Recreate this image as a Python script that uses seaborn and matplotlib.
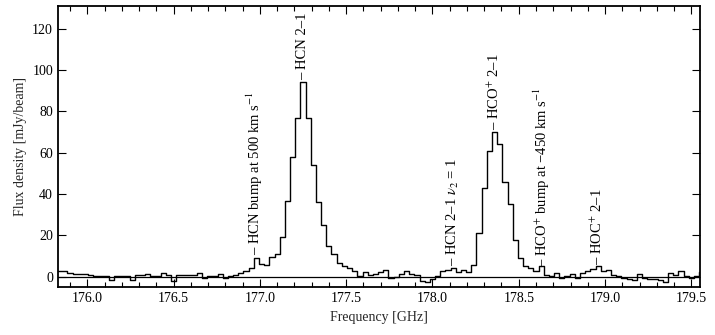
"""Spectrum around the HCN / HCO+ 2-1 lines, drawn as a step histogram."""

import numpy as np
import pandas as pd
import matplotlib
matplotlib.use('Agg')
import matplotlib.pyplot as plt
from matplotlib.ticker import MultipleLocator
import seaborn as sns

# channel grid (GHz)
chan_start = 175.81
chan_width = 0.03

# flux density per channel [mJy/beam]
flux = [
    3, 3, 3, 2, 1.5, 1.3, 1.3, 1, 0.5, 0.3,
    0.3, -1.5, 0.5, 0.5, 0.5, -1.5, 0.8, 0.8, 1.5, 0.3,
    0.3, 2, 0.8, -2, 1, 1, 1, 1, 2, -0.5,
    0.5, 0.5, 1.5, -0.5, 0.2, 0.8, 1.8, 2.6, 4, 9,
    6, 5.5, 9.7, 11, 19, 36.5, 58, 77, 94, 77,
    54, 36, 25, 15, 11, 6.5, 5, 4, 2.8, 0.5,
    2.5, 1, 1.5, 2.2, 3.5, -0.6, -0.2, 1.5, 2.6, 1.5,
    0.8, -2, -2.6, -1, 0.5, 2.6, 3.4, 4.2, 2.5, 3.4,
    2.3, 5.5, 21, 43, 61, 70, 64, 46, 35, 18,
    9, 5, 4.3, 3, 5, 1, 0.5, 2, -0.8, 0.5,
    1.5, -0.5, 1.8, 2.6, 3.7, 5, 2.6, 3.2, 1, 0.3,
    -0.5, -1, -1.8, 1.5, -0.5, -1, -1, -1.8, -2.4, 1.8,
    1, 2.6, 0.3, -0.5, 0.5, 2.2,
]
freq = chan_start + chan_width * np.arange(len(flux))

# line identifications: label text, frequency, height of label foot
line_labels = [
    '– HCN bump at 500 km s$^{-1}$',
    '– HCN 2–1',
    '– HCN 2–1 $\\nu_2$ = 1',
    '– HCO$^{+}$ 2–1',
    '– HCO$^{+}$ bump at −450 km s$^{-1}$',
    '– HOC$^{+}$ 2–1',
]
line_freqs = [176.97, 177.25, 178.12, 178.36, 178.635, 178.955]
line_heights = [10.5, 95.0, 5.0, 71.0, 4.5, 5.5]


def main():
    sns.set_theme(style='ticks')
    plt.rcParams['font.family'] = ['Liberation Serif', 'DejaVu Serif']
    plt.rcParams['mathtext.fontset'] = 'stix'
    plt.rcParams['font.size'] = 10

    df = pd.DataFrame({'freq': freq, 'flux': flux})

    fig = plt.figure(figsize=(7.15, 3.35), dpi=100)
    ax = fig.add_axes([0.081, 0.143, 0.898, 0.839])

    sns.lineplot(data=df, x='freq', y='flux', estimator=None, sort=True,
                 drawstyle='steps-mid', color='black', linewidth=1.0, ax=ax)
    ax.axhline(0, color='black', linewidth=0.9)

    for text, f, h in zip(line_labels, line_freqs, line_heights):
        ax.text(f, h, text, rotation=90, ha='center', va='bottom',
                fontsize=10.5, color='black')

    ax.set_xlim(175.83, 179.55)
    ax.set_ylim(-5, 131)
    ax.xaxis.set_major_locator(MultipleLocator(0.5))
    ax.xaxis.set_minor_locator(MultipleLocator(0.1))
    ax.yaxis.set_major_locator(MultipleLocator(20))
    ax.xaxis.set_major_formatter(plt.FormatStrFormatter('%.1f'))
    ax.tick_params(which='both', direction='in', top=True, right=True,
                   labelsize=10, colors='black')
    ax.tick_params(which='major', length=6, width=0.8)
    ax.tick_params(which='minor', length=3.5, width=0.8)
    for sp in ax.spines.values():
        sp.set_linewidth(1.3)
        sp.set_color('black')

    ax.set_xlabel('Frequency [GHz]', fontsize=10)
    ax.set_ylabel('Flux density [mJy/beam]', fontsize=10)

    fig.savefig('out.png', dpi=100)
    plt.close(fig)


if __name__ == '__main__':
    main()
